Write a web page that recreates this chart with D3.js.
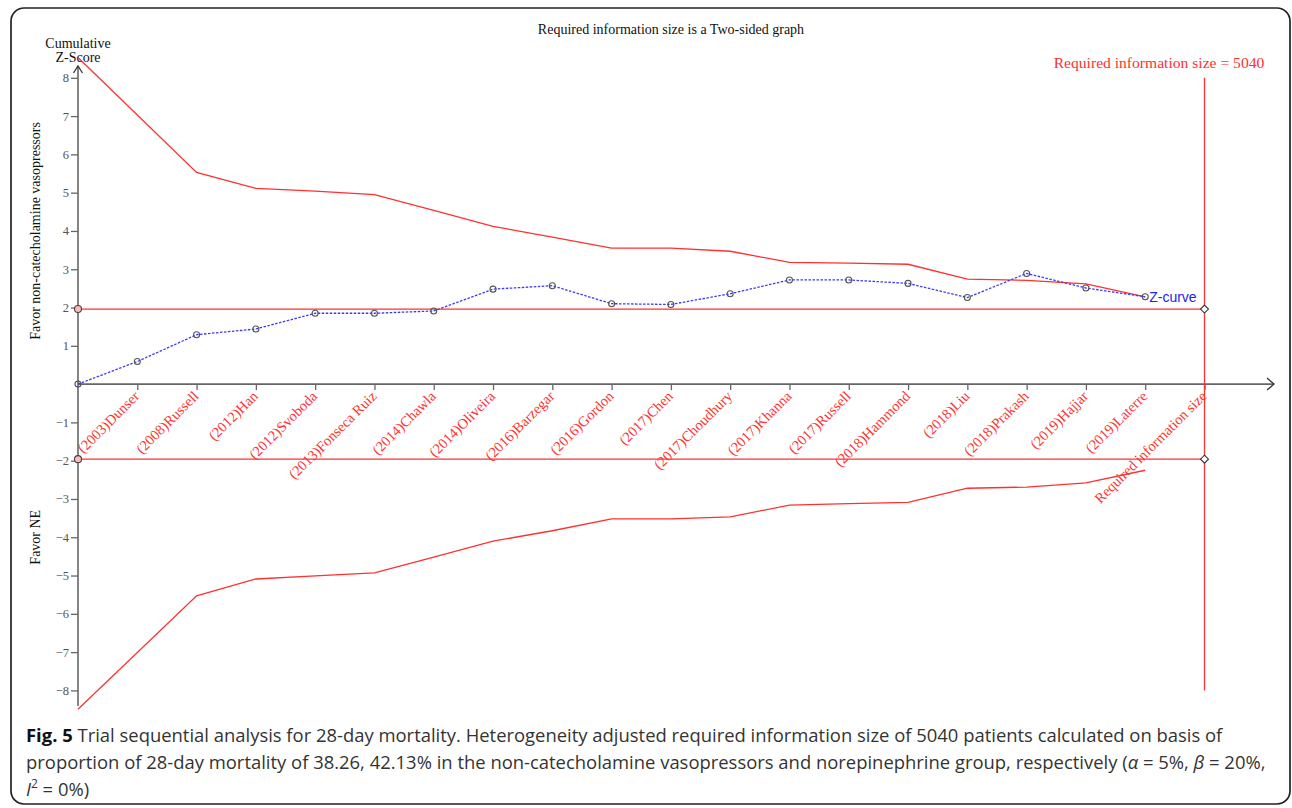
<!DOCTYPE html>
<html>
<head>
<meta charset="utf-8">
<script src="https://cdn.jsdelivr.net/npm/d3@7/dist/d3.min.js"></script>
<style>
  html, body { margin: 0; padding: 0; background: #fff; }
  svg { display: block; }
</style>
</head>
<body>
<svg id="chart" width="1292" height="808"></svg>
<script>
// ---- Data ----
const trialLabels = ["(2003)Dunser","(2008)Russell","(2012)Han","(2012)Svoboda","(2013)Fonseca Ruiz","(2014)Chawla","(2014)Oliveira","(2016)Barzegar","(2016)Gordon","(2017)Chen","(2017)Choudhury","(2017)Khanna","(2017)Russell","(2018)Hammond","(2018)Liu","(2018)Prakash","(2019)Hajjar","(2019)Laterre","Required information size"];
const zCurve = [0, 0.59, 1.29, 1.44, 1.85, 1.85, 1.91, 2.48, 2.57, 2.10, 2.08, 2.36, 2.72, 2.72, 2.63, 2.26, 2.89, 2.51, 2.28];
const upperBoundary = [8.53, null, 5.53, 5.11, 5.04, 4.95, 4.54, 4.12, 3.84, 3.55, 3.55, 3.47, 3.18, 3.16, 3.13, 2.74, 2.71, 2.62, 2.28];
const lowerBoundary = [-8.49, null, -5.53, -5.09, -5.01, -4.93, -4.52, -4.10, -3.83, -3.52, -3.52, -3.47, -3.16, -3.12, -3.09, -2.72, -2.69, -2.58, -2.25];
const conventional = [1.96, -1.96];
const yTicks = [-8, -7, -6, -5, -4, -3, -2, -1, 1, 2, 3, 4, 5, 6, 7, 8];
const risIndex = 19;
const risValue = 5040;

// ---- Setup ----
const svg = d3.select("#chart");
const RED = "#ff3030";
const GRAY = "#666";
const serif = "'Liberation Serif', 'Times New Roman', serif";

const x = d3.scaleLinear().domain([0, 19]).range([78, 1204.5]);
const y = d3.scaleLinear().domain([-8, 8]).range([690.4, 77.8]);

// Frame
svg.append("rect").attr("x", 11).attr("y", 8).attr("width", 1279).attr("height", 796)
  .attr("rx", 13).attr("fill", "none").attr("stroke", "#222").attr("stroke-width", 1.7);

// Title
svg.append("text").attr("x", 671).attr("y", 34).attr("text-anchor", "middle")
  .attr("font-family", serif).attr("font-size", 14).attr("fill", "#111")
  .text("Required information size is a Two-sided graph");

// Y axis title
svg.append("text").attr("x", 78).attr("y", 48).attr("text-anchor", "middle")
  .attr("font-family", serif).attr("font-size", 14).attr("fill", "#111").text("Cumulative");
svg.append("text").attr("x", 78).attr("y", 62).attr("text-anchor", "middle")
  .attr("font-family", serif).attr("font-size", 14).attr("fill", "#111").text("Z-Score");

svg.append("text").attr("transform", `translate(40,${y(4)}) rotate(-90)`).attr("text-anchor", "middle")
  .attr("font-family", serif).attr("font-size", 14).attr("fill", "#111").text("Favor non-catecholamine vasopressors");
svg.append("text").attr("transform", `translate(40,${y(-4)}) rotate(-90)`).attr("text-anchor", "middle")
  .attr("font-family", serif).attr("font-size", 14).attr("fill", "#111").text("Favor NE");

// Y axis
const yAxis = d3.axisLeft(y).tickValues(yTicks).tickSize(7).tickPadding(2)
  .tickFormat(d => d < 0 ? "\u2212" + Math.abs(d) : String(d));
const gy = svg.append("g").attr("transform", `translate(${x(0)},0)`).call(yAxis);
gy.select(".domain").remove();
gy.selectAll(".tick line").attr("stroke", GRAY).attr("stroke-width", 1.3);
gy.selectAll(".tick text").attr("font-family", serif).attr("font-size", 12.5).attr("fill", "#555");
svg.append("line").attr("x1", x(0)).attr("x2", x(0)).attr("y1", 706).attr("y2", 66)
  .attr("stroke", GRAY).attr("stroke-width", 1.6);
svg.append("path").attr("d", `M${x(0)-4.5},${73} L${x(0)},${66} L${x(0)+4.5},${73}`)
  .attr("fill", "none").attr("stroke", "#333").attr("stroke-width", 1.3);

// X axis
const xAxis = d3.axisBottom(x).tickValues(d3.range(1, 20)).tickSize(6).tickFormat("");
const gx = svg.append("g").attr("transform", `translate(0,${y(0)})`).call(xAxis);
gx.select(".domain").remove();
gx.selectAll(".tick line").attr("stroke", GRAY).attr("stroke-width", 1.3);
svg.append("line").attr("x1", x(0)).attr("x2", 1274).attr("y1", y(0)).attr("y2", y(0))
  .attr("stroke", GRAY).attr("stroke-width", 1.6);
svg.append("path").attr("d", `M1267,${y(0)-6} L1274,${y(0)} L1267,${y(0)+6}`)
  .attr("fill", "none").attr("stroke", "#333").attr("stroke-width", 1.3);

// X labels
svg.append("g").selectAll("text").data(trialLabels).join("text")
  .attr("transform", (d, i) => `translate(${x(i + 1) + 3},${y(0) + 13}) rotate(-45)`)
  .attr("text-anchor", "end")
  .attr("font-family", serif).attr("font-size", 14.5).attr("fill", RED)
  .text(d => d);

// Conventional boundaries
svg.append("g").selectAll("line").data(conventional).join("line")
  .attr("x1", x(0)).attr("x2", x(risIndex)).attr("y1", d => y(d)).attr("y2", d => y(d))
  .attr("stroke", RED).attr("stroke-width", 1.3);

// RIS vertical line
svg.append("line").attr("x1", x(risIndex)).attr("x2", x(risIndex)).attr("y1", y(8)).attr("y2", y(-8))
  .attr("stroke", RED).attr("stroke-width", 1.3);
svg.append("text").attr("x", 1159).attr("y", 68).attr("text-anchor", "middle")
  .attr("font-family", serif).attr("font-size", 15.6).attr("fill", RED)
  .text("Required information size = " + risValue);

// Monitoring boundaries
const bLine = d3.line().x(d => x(d.i)).y(d => y(d.v));
const toPts = arr => arr.map((v, i) => ({ i, v })).filter(d => d.v !== null);
svg.append("path").attr("d", bLine(toPts(upperBoundary))).attr("fill", "none").attr("stroke", RED).attr("stroke-width", 1.3);
svg.append("path").attr("d", bLine(toPts(lowerBoundary))).attr("fill", "none").attr("stroke", RED).attr("stroke-width", 1.3);

// Markers on conventional boundaries
svg.append("g").selectAll("circle").data(conventional).join("circle")
  .attr("cx", x(0)).attr("cy", d => y(d)).attr("r", 3.5)
  .attr("fill", "#fbb").attr("stroke", "#444").attr("stroke-width", 1.1);
svg.append("g").selectAll("path").data(conventional).join("path")
  .attr("d", d3.symbol(d3.symbolDiamond2, 40))
  .attr("transform", d => `translate(${x(risIndex)},${y(d)})`)
  .attr("fill", "#fff").attr("stroke", "#333").attr("stroke-width", 1.1);

// Z-curve
const zPts = zCurve.map((v, i) => ({ i, v }));
svg.append("path").attr("d", bLine(zPts)).attr("fill", "none").attr("stroke", "#3a3aff")
  .attr("stroke-width", 1.3).attr("stroke-dasharray", "2.5,1.5");
svg.append("g").selectAll("circle").data(zPts).join("circle")
  .attr("cx", d => x(d.i)).attr("cy", d => y(d.v)).attr("r", 3)
  .attr("fill", "none").attr("stroke", "#555").attr("stroke-width", 1.1);
svg.append("text").attr("x", x(zCurve.length - 1) + 4).attr("y", y(zCurve[zCurve.length - 1]) + 5)
  .attr("font-family", "'Liberation Sans', Arial, sans-serif").attr("font-size", 14).attr("fill", "#2222ee")
  .text("Z-curve");

// Caption
const capFont = "'Open Sans', 'Noto Sans', sans-serif";
const cap = svg.append("g").attr("font-family", capFont).attr("fill", "#333");
const l1 = cap.append("text").attr("x", 26).attr("y", 742).attr("font-size", 17);
l1.append("tspan").attr("font-weight", "bold").attr("fill", "#111").text("Fig. 5");
l1.append("tspan").text(" Trial sequential analysis for 28-day mortality. Heterogeneity adjusted required information size of 5040 patients calculated on basis of");
const l2 = cap.append("text").attr("x", 26).attr("y", 769).attr("font-size", 17);
l2.append("tspan").text("proportion of 28-day mortality of 38.26, 42.13% in the non-catecholamine vasopressors and norepinephrine group, respectively (");
l2.append("tspan").attr("font-style", "italic").text("\u03b1");
l2.append("tspan").text(" = 5%, ");
l2.append("tspan").attr("font-style", "italic").text("\u03b2");
l2.append("tspan").text(" = 20%,");
const l3 = cap.append("text").attr("x", 26).attr("y", 796).attr("font-size", 17);
l3.append("tspan").attr("font-style", "italic").text("I");
l3.append("tspan").attr("font-size", 11).attr("dy", -8).text("2");
l3.append("tspan").attr("dy", 8).text(" = 0%)");
// fit caption lines to measured widths
const w1 = l1.node().getComputedTextLength();
const w2 = l2.node().getComputedTextLength();
const s = ((1222 - 26) / w1 + (1268 - 26) / w2) / 2;
[l1, l2, l3].forEach(t => t.attr("font-size", 17 * s));
l3.select("tspan:nth-child(2)").attr("font-size", 11 * s);
</script>
</body>
</html>
